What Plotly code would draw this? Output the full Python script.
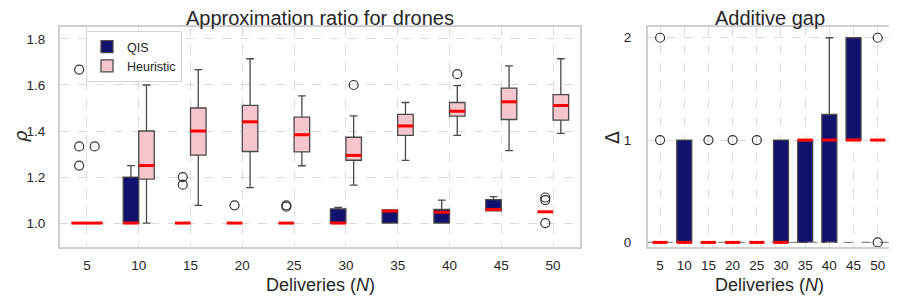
import plotly.graph_objects as go

# ---------------- data ----------------
deliveries = ["5", "10", "15", "20", "25", "30", "35", "40", "45", "50"]

# Approximation ratio (rho) - QIS
qis_q1 = [1.0, 1.0, 1.0, 1.0, 1.0, 1.0, 1.0, 1.0, 1.053, 1.049]
qis_med = [1.0, 1.0, 1.0, 1.0, 1.0, 1.0, 1.052, 1.047, 1.059, 1.049]
qis_q3 = [1.0, 1.2, 1.0, 1.0, 1.0, 1.062, 1.057, 1.059, 1.102, 1.049]
qis_lo = [1.0, 1.0, 1.0, 1.0, 1.0, 1.0, 1.0, 1.0, 1.053, 1.049]
qis_hi = [1.0, 1.25, 1.0, 1.0, 1.0, 1.068, 1.057, 1.10, 1.115, 1.049]
qis_out = [[1.667, 1.333, 1.25], [], [1.2, 1.167], [1.077], [1.071, 1.077],
           [], [], [], [], [1.0, 1.1, 1.111]]

# Approximation ratio (rho) - Heuristic
heu_q1 = [1.0, 1.191, 1.295, 1.311, 1.309, 1.273, 1.381, 1.465, 1.450, 1.447]
heu_med = [1.0, 1.25, 1.40, 1.440, 1.384, 1.294, 1.422, 1.486, 1.527, 1.511]
heu_q3 = [1.0, 1.40, 1.50, 1.511, 1.460, 1.373, 1.472, 1.524, 1.586, 1.558]
heu_lo = [1.0, 1.0, 1.077, 1.154, 1.249, 1.165, 1.272, 1.381, 1.315, 1.390]
heu_hi = [1.0, 1.60, 1.667, 1.714, 1.553, 1.466, 1.524, 1.597, 1.683, 1.714]
heu_out = [[1.333], [], [], [], [], [1.6], [], [1.647], [], []]

# Additive gap (Delta)
gap_q1 = [0, 0, 0, 0, 0, 0, 0, 0, 1, 1]
gap_med = [0, 0, 0, 0, 0, 0, 1, 1, 1, 1]
gap_q3 = [0, 1, 0, 0, 0, 1, 1, 1.25, 2, 1]
gap_lo = [0, 0, 0, 0, 0, 0, 0, 0, 1, 1]
gap_hi = [0, 1, 0, 0, 0, 1, 1, 2, 2, 1]
gap_out = [[1, 2], [], [1], [1], [1], [], [], [], [], [0, 2]]
gap_baseline = 0

rho_ticks = [1.0, 1.2, 1.4, 1.6, 1.8]
gap_ticks = [0, 1, 2]

# ---------------- style ----------------
NAVY = "#12126E"
PINK = "#F5C6CD"
EDGE = "#4a4a4a"
RED = "#FF0000"
FRAME = "#cfcfcf"
GRID = "#dbdbdb"
TXT = "#262626"
FONT = "Liberation Sans, Arial, sans-serif"
MATH = "DejaVu Sans, sans-serif"

OFF = 8  # page body margin
W, H = 897 - OFF, 301 - OFF


def px(x):
    return (x - OFF) / W


def py(y):
    return 1 - (y - OFF) / H


yb, yt = py(247), py(27)
dom1 = [px(60), px(580)]
dom2 = [px(648), px(891)]

fig = go.Figure()
pos = list(range(len(deliveries)))


def add_group(xaxis, yaxis, offset, width, q1, med, q3, lo, hi, outs, fill, name, show):
    xs = [p + offset for p in pos]
    fig.add_trace(go.Box(
        x=xs, q1=q1, median=med, q3=q3, lowerfence=lo, upperfence=hi,
        width=width, whiskerwidth=0.5, fillcolor=fill,
        line=dict(color=EDGE, width=1.3), name=name, showlegend=show,
        boxpoints=False, hoverinfo="skip",
        xaxis=xaxis, yaxis=yaxis))
    mx, my = [], []
    for x, m in zip(xs, med):
        mx += [x - width / 2, x + width / 2, None]
        my += [m, m, None]
    fig.add_trace(go.Scatter(x=mx, y=my, mode="lines",
                             line=dict(color=RED, width=3),
                             showlegend=False, hoverinfo="skip",
                             xaxis=xaxis, yaxis=yaxis))
    ox, oy = [], []
    for x, o in zip(xs, outs):
        for v in o:
            ox.append(x)
            oy.append(v)
    fig.add_trace(go.Scatter(x=ox, y=oy, mode="markers",
                             marker=dict(symbol="circle-open", size=9,
                                         color="#333333", line=dict(width=1.2)),
                             showlegend=False, hoverinfo="skip",
                             xaxis=xaxis, yaxis=yaxis))


add_group("x", "y", -0.15, 0.3, qis_q1, qis_med, qis_q3, qis_lo, qis_hi, qis_out, NAVY, "QIS", True)
add_group("x", "y", 0.15, 0.3, heu_q1, heu_med, heu_q3, heu_lo, heu_hi, heu_out, PINK, "Heuristic", True)

# baseline for gap panel (drawn beneath boxes)
fig.add_trace(go.Scatter(x=[-0.6, 9.7], y=[gap_baseline, gap_baseline], mode="lines",
                         line=dict(color="#8a8a8a", width=1.3, dash="dash"),
                         showlegend=False, hoverinfo="skip", xaxis="x2", yaxis="y2"))
add_group("x2", "y2", 0.0, 0.62, gap_q1, gap_med, gap_q3, gap_lo, gap_hi, gap_out, NAVY, "gap", False)

axis_common = dict(showline=True, linecolor=FRAME, linewidth=2, mirror=True,
                   showgrid=True, gridcolor=GRID, griddash="dash", gridwidth=1,
                   zeroline=False, ticks="", tickfont=dict(size=13.5, color=TXT, family=FONT),
                   automargin=False)

fig.update_layout(
    width=W, height=H,
    margin=dict(l=0, r=0, t=0, b=0),
    paper_bgcolor="white", plot_bgcolor="white",
    font=dict(family=FONT, color=TXT),
    boxmode="overlay",
    xaxis=dict(domain=dom1, range=[-0.52, 9.52], tickvals=pos, ticktext=deliveries,
               anchor="y", ticklabelstandoff=5, **axis_common),
    yaxis=dict(domain=[yb, yt], range=[0.896, 1.852], tickvals=rho_ticks,
               ticktext=[f"{v:.1f}" for v in rho_ticks], anchor="x",
               ticklabelstandoff=10, **axis_common),
    xaxis2=dict(domain=dom2, range=[-0.5, 9.55], tickvals=pos, ticktext=deliveries,
                anchor="y2", ticklabelstandoff=5, **axis_common),
    yaxis2=dict(domain=[yb, yt], range=[-0.045, 2.105], tickvals=gap_ticks,
                ticktext=[str(v) for v in gap_ticks], anchor="x2",
                ticklabelstandoff=12, **axis_common),
    legend=dict(x=px(86), y=py(31), xanchor="left", yanchor="top",
                bgcolor="rgba(255,255,255,0.85)", bordercolor="#d5d5d5", borderwidth=1,
                font=dict(size=12.5, color=TXT, family=FONT),
                itemwidth=30, tracegroupgap=0),
    showlegend=True,
)

ann = [
    dict(text="Approximation ratio for drones", x=(dom1[0] + dom1[1]) / 2, y=py(18), size=20, ang=0, fam=FONT),
    dict(text="Additive gap", x=(dom2[0] + dom2[1]) / 2, y=py(18), size=20, ang=0, fam=FONT),
    dict(text="Deliveries (<i>N</i>)", x=(dom1[0] + dom1[1]) / 2, y=py(285), size=18, ang=0, fam=FONT),
    dict(text="Deliveries (<i>N</i>)", x=(dom2[0] + dom2[1]) / 2, y=py(285), size=18, ang=0, fam=FONT),
    dict(text="<i>ρ</i>", x=px(20), y=py(136), size=18, ang=-90, fam=MATH),
    dict(text="Δ", x=px(612), y=py(138), size=19, ang=-90, fam=MATH),
]
for a in ann:
    fig.add_annotation(text=a["text"], x=a["x"], y=a["y"], xref="paper", yref="paper",
                       xanchor="center", yanchor="middle", showarrow=False,
                       textangle=a["ang"],
                       font=dict(size=a["size"], color=TXT, family=a["fam"]))

fig.write_html("out.html")
